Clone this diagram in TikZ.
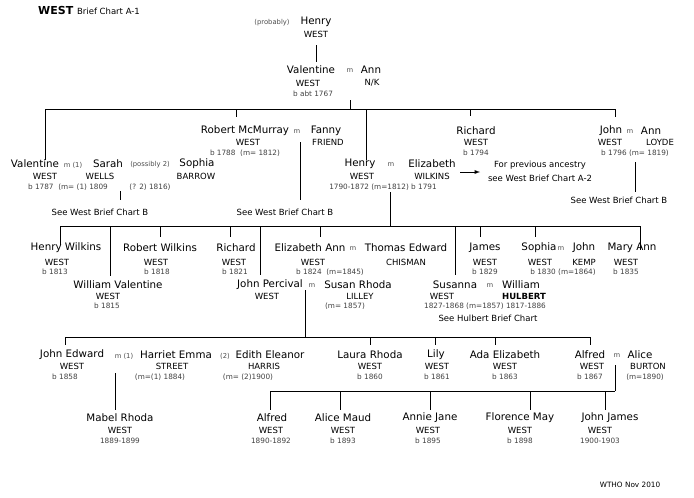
\documentclass[tikz,border=0pt]{standalone}
\usepackage{fontspec}
\setmainfont{DejaVu Sans}
\begin{document}
\begin{tikzpicture}[x=1pt,y=-1pt,
 nm/.style={font=\fontsize{10.3}{11}\selectfont,inner sep=0pt},
 sn/.style={font=\fontsize{8.5}{9}\selectfont,inner sep=0pt},
 dt/.style={font=\fontsize{7.3}{8}\selectfont,inner sep=0pt,text=black!75},
 mm/.style={font=\fontsize{6.8}{7}\selectfont,inner sep=0pt,text=black!70},
 ln/.style={line width=0.9pt}]
\useasboundingbox (0,0) rectangle (694,498);
\node[anchor=west,inner sep=0pt] (title) at (38,10) {\fontsize{11}{12}\selectfont\bfseries WEST \fontsize{8.5}{9}\selectfont\mdseries Brief Chart A-1};
% generation 0
\node[mm] (prob) at (272,23) {(probably)};
\node[nm] (h0) at (316,22) {Henry}; \node[sn] at (316,34) {WEST};
\node[nm] (v1) at (311,70) {Valentine}; \node[mm] at (350,71) {m}; \node[nm] (ann) at (371,70) {Ann};
\node[sn] at (308,83) {WEST}; \node[sn] at (372,83) {N/K}; \node[dt] at (313,94) {b abt 1767};
\draw[ln] (316,45) -- (316,62);
\draw[ln] (350,100) -- (350,109);
\draw[ln] (45,109) -- (615,109);
\foreach \x/\y in {45/160,236/117,366/160,470/116,615/117}{\draw[ln] (\x,109) -- (\x,\y);}
% generation 1
\node[nm] at (245,131) {Robert McMurray}; \node[mm] at (297,132) {m}; \node[nm] at (326,131) {Fanny};
\node[sn] at (248,142) {WEST}; \node[sn] at (328,142) {FRIEND}; \node[dt] at (245,153) {b 1788\ \ (m= 1812)};
\node[nm] at (476,131) {Richard}; \node[sn] at (476,142) {WEST}; \node[dt] at (476,153) {b 1794};
\node[nm] at (611,131) {John}; \node[mm] at (630,132) {m}; \node[nm] at (651,131) {Ann};
\node[sn] at (610,142) {WEST}; \node[sn] at (660,142) {LOYDE}; \node[dt] at (635,153) {b 1796 (m= 1819)};
\node[nm] at (35,164) {Valentine}; \node[mm] at (73,165) {m (1)}; \node[nm] at (108,164) {Sarah};
\node[mm] at (150,165) {(possibly 2)}; \node[nm] at (197,164) {Sophia};
\node[sn] at (45,176) {WEST}; \node[sn] at (100,176) {WELLS}; \node[sn] at (196,176) {BARROW};
\node[dt] at (68,187) {b 1787\ \ (m= (1) 1809}; \node[dt] at (150,187) {(? 2) 1816)};
\draw[ln] (120,191) -- (120,200);
\node[sn] at (100,212) {See West Brief Chart B};
\draw[ln] (300,142) -- (300,200);
\node[sn] at (285,212) {See West Brief Chart B};
\node[nm] at (360,164) {Henry}; \node[mm] at (391,165) {m}; \node[nm] at (432,164) {Elizabeth};
\node[sn] at (362,176) {WEST}; \node[sn] at (432,176) {WILKINS};
\node[dt] at (383,187) {1790-1872 (m=1812) b 1791};
\draw[ln,-latex] (460,172) -- (480,172);
\node[sn] at (540,165) {For previous ancestry}; \node[sn] at (540,178) {see West Brief Chart A-2};
\draw[ln] (635,162) -- (635,192);
\node[sn] at (619,200) {See West Brief Chart B};
% generation 2
\draw[ln] (390,192) -- (390,226);
\draw[ln] (60,226) -- (641,226);
\foreach \x/\y in {60/245,110/276,160/237,230/237,260/275,320/237,455/275,480/237,535/237,640/250}{\draw[ln] (\x,226) -- (\x,\y);}
\node[nm] at (66,248) {Henry Wilkins}; \node[sn] at (57,262) {WEST}; \node[dt] at (55,272) {b 1813};
\node[nm] at (160,248) {Robert Wilkins}; \node[sn] at (156,262) {WEST}; \node[dt] at (157,272) {b 1818};
\node[nm] at (236,248) {Richard}; \node[sn] at (234,262) {WEST}; \node[dt] at (235,272) {b 1821};
\node[nm] at (310,248) {Elizabeth Ann}; \node[mm] at (353,249) {m}; \node[nm] at (406,248) {Thomas Edward};
\node[sn] at (313,262) {WEST}; \node[sn] at (406,262) {CHISMAN}; \node[dt] at (330,272) {b 1824\ \ (m=1845)};
\node[nm] at (485,248) {James}; \node[sn] at (485,262) {WEST}; \node[dt] at (485,272) {b 1829};
\node[nm] at (539,248) {Sophia}; \node[mm] at (561,249) {m}; \node[nm] at (584,248) {John};
\node[sn] at (540,262) {WEST}; \node[sn] at (584,262) {KEMP}; \node[dt] at (563,272) {b 1830 (m=1864)};
\node[nm] at (632,248) {Mary Ann}; \node[sn] at (626,262) {WEST}; \node[dt] at (626,272) {b 1835};
\node[nm] at (118,285) {William Valentine}; \node[sn] at (108,296) {WEST}; \node[dt] at (107,306) {b 1815};
\node[nm] at (270,285) {John Percival}; \node[mm] at (312,286) {m}; \node[nm] at (358,285) {Susan Rhoda};
\node[sn] at (267,296) {WEST}; \node[sn] at (360,296) {LILLEY}; \node[dt] at (345,306) {(m= 1857)};
\node[nm] at (455,285) {Susanna}; \node[mm] at (490,286) {m}; \node[nm] at (521,285) {William};
\node[sn] at (442,296) {WEST}; \node[sn] at (524,296) {\bfseries HULBERT};
\node[dt] at (485,306) {1827-1868 (m=1857) 1817-1886};
\node[sn] at (488,318) {See Hulbert Brief Chart};
% generation 3
\draw[ln] (305,290) -- (305,337);
\draw[ln] (65,337) -- (591,337);
\foreach \x in {65,370,435,495,590}{\draw[ln] (\x,337) -- (\x,345);}
\node[nm] at (72,355) {John Edward}; \node[mm] at (124,356) {m (1)}; \node[nm] at (176,355) {Harriet Emma};
\node[mm] at (225,356) {(2)}; \node[nm] at (270,355) {Edith Eleanor};
\node[sn] at (72,366) {WEST}; \node[sn] at (172,366) {STREET}; \node[sn] at (264,366) {HARRIS};
\node[dt] at (65,377) {b 1858}; \node[dt] at (160,377) {(m=(1) 1884)}; \node[dt] at (248,377) {(m= (2)1900)};
\node[nm] at (370,355) {Laura Rhoda}; \node[sn] at (370,366) {WEST}; \node[dt] at (370,377) {b 1860};
\node[nm] at (436,355) {Lily}; \node[sn] at (437,366) {WEST}; \node[dt] at (437,377) {b 1861};
\node[nm] at (505,355) {Ada Elizabeth}; \node[sn] at (505,366) {WEST}; \node[dt] at (505,377) {b 1863};
\node[nm] at (590,355) {Alfred}; \node[mm] at (617,356) {m}; \node[nm] at (640,355) {Alice};
\node[sn] at (592,366) {WEST}; \node[sn] at (648,366) {BURTON}; \node[dt] at (590,377) {b 1867}; \node[dt] at (645,377) {(m=1890)};
% generation 4
\draw[ln] (115,373) -- (115,410);
\node[nm] at (120,418) {Mabel Rhoda}; \node[sn] at (120,430) {WEST}; \node[dt] at (120,441) {1889-1899};
\draw[ln] (615,365) -- (615,391);
\draw[ln] (270,391) -- (615,391);
\foreach \x in {270,340,430,530,605}{\draw[ln] (\x,391) -- (\x,410);}
\node[nm] at (272,418) {Alfred}; \node[sn] at (271,430) {WEST}; \node[dt] at (271,441) {1890-1892};
\node[nm] at (343,418) {Alice Maud}; \node[sn] at (343,430) {WEST}; \node[dt] at (343,441) {b 1893};
\node[nm] at (430,418) {Annie Jane}; \node[sn] at (428,430) {WEST}; \node[dt] at (428,441) {b 1895};
\node[nm] at (520,418) {Florence May}; \node[sn] at (520,430) {WEST}; \node[dt] at (520,441) {b 1898};
\node[nm] at (610,418) {John James}; \node[sn] at (600,430) {WEST}; \node[dt] at (600,441) {1900-1903};
\node[dt,text=black] at (630,485) {WTHO Nov 2010};
\end{tikzpicture}
\end{document}
